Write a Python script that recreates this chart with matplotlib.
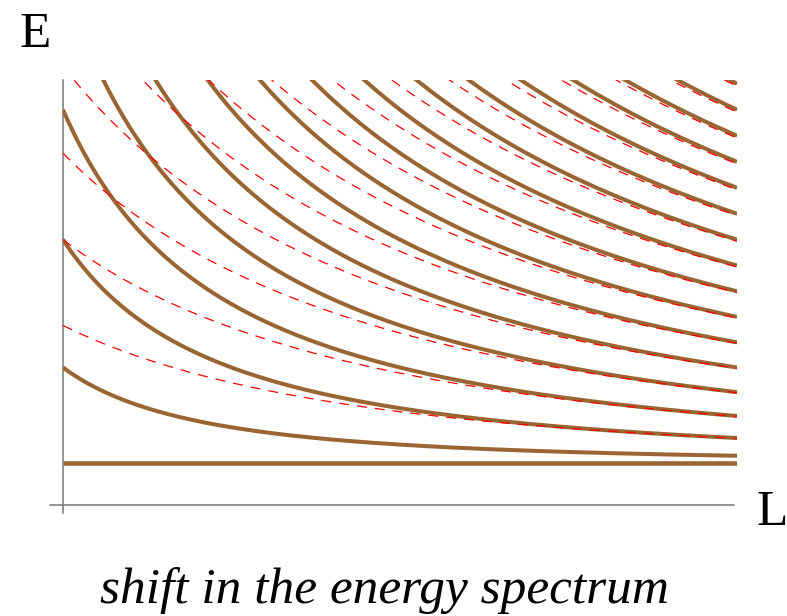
import numpy as np
import matplotlib
matplotlib.use("Agg")
import matplotlib.pyplot as plt

# Spectrum of a particle of mass m in a box of length L:
#   free levels     E_n = sqrt(m^2 + (pi n / L)^2)
#   shifted levels  momentum reduced by a factor that dies out with L
mass = 1.0
L_min, L_max = 1.0, 5.0
E_max = 10.19
free_levels = list(range(0, 25))
shifted_levels = list(range(2, 25))
shift_amp = 1.0 / 3.0
shift_decay = 1.0

brown = "#996633"
red = "#ff0000"
axis_grey = "#777777"
serif = "Liberation Serif"


def free_energy(n, L):
    return np.sqrt(mass ** 2 + (np.pi * n / L) ** 2)


def shifted_energy(n, L):
    k = np.pi * n / L * (1.0 - shift_amp * np.exp(-shift_decay * (L - L_min)))
    return np.sqrt(mass ** 2 + k ** 2)


W, H = 787, 616
fig = plt.figure(figsize=(W / 100, H / 100), dpi=100)
ax = fig.add_axes([63 / W, 111 / H, 674 / W, 425 / H])
ax.set_xlim(L_min, L_max)
ax.set_ylim(0, E_max)
ax.axis("off")

L = np.linspace(L_min, L_max, 800)

# coordinate axes
ax.plot([L_min - 0.077, L_max - 0.02], [0, 0], color=axis_grey, lw=1.1,
        clip_on=False, zorder=1)
ax.plot([L_min, L_min], [-0.19, E_max], color=axis_grey, lw=1.1,
        clip_on=False, zorder=1)

# free levels
for n in free_levels:
    ax.plot(L, free_energy(n, L), color=brown,
            lw=3.3 if n == 0 else 2.9, solid_capstyle="butt", zorder=2)

# shifted levels
for n in shifted_levels:
    ax.plot(L, shifted_energy(n, L), color=red, lw=0.9,
            dashes=(8.0, 6.4), zorder=3)

fig.text(20 / W, 1 - 47 / H, "E", fontsize=37, family=serif,
         ha="left", va="baseline")
fig.text(756 / W, 1 - 525 / H, "L", fontsize=37, family=serif,
         ha="left", va="baseline")
fig.text(384 / W, 1 - 603 / H, "shift in the energy spectrum", fontsize=37,
         family=serif, style="italic", ha="center", va="baseline")

fig.savefig("out.png", dpi=100)
